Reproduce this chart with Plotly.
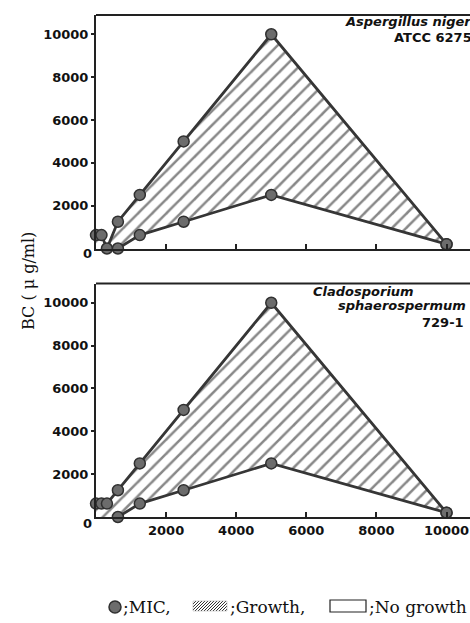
import plotly.graph_objects as go
from plotly.subplots import make_subplots

# ---------------- data ----------------
# Aspergillus niger ATCC 6275 (top panel)
an_upper_x = [0, 156, 312, 625, 1250, 2500, 5000, 10000]
an_upper_y = [625, 625, 0, 1250, 2500, 5000, 10000, 200]
an_lower_x = [625, 1250, 2500, 5000, 10000]
an_lower_y = [0, 625, 1250, 2500, 200]

# Cladosporium sphaerospermum 729-1 (bottom panel)
cs_upper_x = [0, 156, 312, 625, 1250, 2500, 5000, 10000]
cs_upper_y = [625, 625, 625, 1250, 2500, 5000, 10000, 200]
cs_lower_x = [625, 1250, 2500, 5000, 10000]
cs_lower_y = [0, 625, 1250, 2500, 200]

y_ticks = [2000, 4000, 6000, 8000, 10000]
y_tick_labels = ["2000", "4000", "6000", "8000", "10000"]
x_ticks = [2000, 4000, 6000, 8000, 10000]
x_tick_labels = ["2000", "4000", "6000", "8000", "10000"]

# ---------------- layout geometry ----------------
W, H = 470, 623
L, R, T, B = 96, 0, 15, 106
PW, PH = W - L - R, H - T - B


def px(x):
    return (x - L) / PW


def py(y):
    return (H - B - y) / PH


fig = make_subplots(rows=2, cols=1, shared_xaxes=False, vertical_spacing=0)

LINE_C = "#363636"
MARK_C = "#6c6c6c"
MARK_L = "#303030"
TICK_FONT = dict(family="DejaVu Sans", size=13, color="#111", weight="bold")


def add_panel(row, ux, uy, lx, ly):
    poly_x = ux + lx[::-1] + [0]
    poly_y = uy + ly[::-1] + [0]
    fig.add_trace(go.Scatter(
        x=poly_x, y=poly_y, mode="lines", fill="toself",
        line=dict(width=0, color="rgba(0,0,0,0)"),
        fillcolor="white",
        fillpattern=dict(shape="/", size=10, solidity=0.25,
                         fgcolor="#111111", bgcolor="white"),
        hoverinfo="skip", showlegend=False), row=row, col=1)
    for xs, ys in ((ux, uy), (lx, ly)):
        fig.add_trace(go.Scatter(
            x=xs, y=ys, mode="lines+markers", cliponaxis=False,
            line=dict(color=LINE_C, width=2.8),
            marker=dict(size=11, color=MARK_C, line=dict(color=MARK_L, width=1.5)),
            showlegend=False), row=row, col=1)


add_panel(1, an_upper_x, an_upper_y, an_lower_x, an_lower_y)
add_panel(2, cs_upper_x, cs_upper_y, cs_lower_x, cs_lower_y)

top_dom = [py(248.5), 1.0]
bot_dom = [0.0, py(283.5)]

for r, dom in ((1, top_dom), (2, bot_dom)):
    fig.update_yaxes(row=r, col=1, domain=dom, range=[0, 10900],
                     tickvals=y_ticks, ticktext=y_tick_labels,
                     ticks="outside", ticklen=3, tickwidth=1.5,
                     tickcolor="#222", showline=True, linewidth=2, linecolor="#222",
                     showgrid=False, zeroline=False, tickfont=TICK_FONT)
    fig.update_xaxes(row=r, col=1, range=[0, 10670],
                     tickvals=x_ticks, ticktext=x_tick_labels, ticks="inside", ticklen=5,
                     tickwidth=1.5, tickcolor="#222", showline=True, linewidth=2,
                     linecolor="#222", showgrid=False, zeroline=False,
                     tickfont=TICK_FONT, showticklabels=(r == 2))

shapes = []
# top borders of each panel
for yy in (15, 283.5):
    shapes.append(dict(type="line", xref="paper", yref="paper",
                       x0=px(96), x1=px(472), y0=py(yy), y1=py(yy),
                       line=dict(color="#222", width=2)))

# legend: MIC circle
shapes.append(dict(type="circle", xref="paper", yref="paper",
                   x0=px(109), x1=px(121), y0=py(613), y1=py(601),
                   fillcolor=MARK_C, line=dict(color=MARK_L, width=1.5)))
# legend: hatched box
bx0, bx1, by0, by1 = 193, 227, 601, 611
path = ""
hh = by1 - by0
ww = bx1 - bx0
c = -hh
while c < ww:
    t0 = max(0, -c)
    t1 = min(hh, ww - c)
    if t1 > t0:
        xa, ya = bx0 + c + t0, by1 - t0
        xb, yb = bx0 + c + t1, by1 - t1
        path += f"M{px(xa)},{py(ya)} L{px(xb)},{py(yb)} "
    c += 3
shapes.append(dict(type="path", xref="paper", yref="paper", path=path,
                   line=dict(color="#333", width=1)))
shapes.append(dict(type="rect", xref="paper", yref="paper",
                   x0=px(bx0), x1=px(bx1), y0=py(by1), y1=py(by0),
                   line=dict(color="#aaa", width=0.5)))
# legend: empty box
shapes.append(dict(type="rect", xref="paper", yref="paper",
                   x0=px(330), x1=px(366), y0=py(612), y1=py(600),
                   line=dict(color="#222", width=1.2)))

SERIF = "DejaVu Serif"
ann = []


def add_text(text, x, y, anchor="left", font=None, angle=0):
    ann.append(dict(text=text, xref="paper", yref="paper", x=px(x), y=py(y),
                    xanchor=anchor, yanchor="middle", showarrow=False,
                    textangle=angle, font=font))


LBL = dict(family="DejaVu Sans", size=13, color="#111", weight="bold", style="italic")
LBL2 = dict(family="DejaVu Sans", size=13, color="#111", weight="bold")
add_text("Aspergillus niger", 474, 22, "right", LBL)
add_text("ATCC 6275", 474, 38, "right", LBL2)
add_text("Cladosporium", 311, 291, "left", LBL)
add_text("sphaerospermum", 468, 306, "right", LBL)
add_text("729-1", 466, 322, "right", LBL2)

add_text("0", 87, 253, "center", TICK_FONT)
add_text("0", 87, 523, "center", TICK_FONT)

add_text("BC ( μ g/ml)", 28, 281, "center",
         dict(family=SERIF, size=16, color="#111"), angle=-90)

LEG = dict(family=SERIF, size=17, color="#111")
add_text(";MIC,", 121, 607, "left", LEG)
add_text(";Growth,", 228, 607, "left", LEG)
add_text(";No growth", 367, 607, "left", LEG)

fig.update_layout(
    width=W, height=H, margin=dict(l=L, r=R, t=T, b=B),
    paper_bgcolor="white", plot_bgcolor="white",
    shapes=shapes, annotations=ann, showlegend=False,
)

fig.write_html(
    "out.html",
    config={"displayModeBar": False},
    post_script="document.body.style.margin='0';document.body.style.overflow='hidden';",
)
